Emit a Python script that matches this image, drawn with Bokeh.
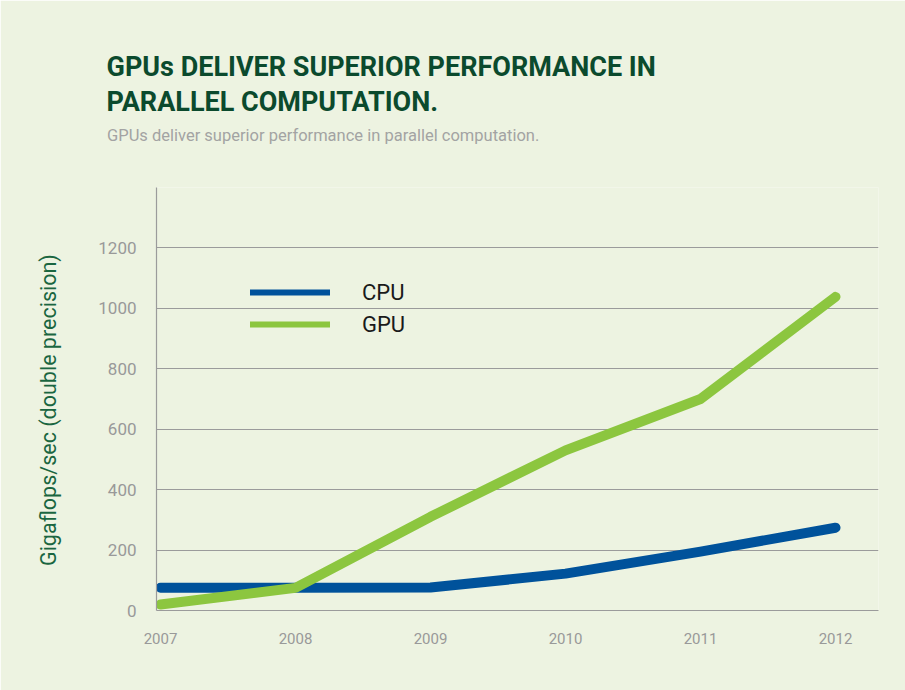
from bokeh.plotting import figure
from bokeh.models import Range1d, FixedTicker, Title, Legend, LegendItem
from bokeh.embed import file_html
from bokeh.resources import INLINE

# ---------------- data ----------------
years = [2007, 2008, 2009, 2010, 2011, 2012]
cpu = [75, 75, 76, 122, 195, 274]
gpu = [20, 75, 310, 530, 700, 1038]
y_ticks = [0, 200, 400, 600, 800, 1000, 1200]
y_tick_labels = ["0", "200", "400", "600", "800", "1000", "1200"]
series_names = ["CPU", "GPU"]
title_lines = ["GPUs DELIVER SUPERIOR PERFORMANCE IN", "PARALLEL COMPUTATION."]
subtitle = "GPUs deliver superior performance in parallel computation."
y_label = "Gigaflops/sec (double precision)"

# ---------------- styles ----------------
BG = "#EDF3E1"
CPU_C = "#00529B"
GPU_C = "#8CC63F"
GRID_C = "#9B9B9B"
TICK_C = "#999999"
TITLE_C = "#0B4A2D"
SUB_C = "#A3A3A3"
YLAB_C = "#1A6640"
FONT = "Roboto"

p = figure(width=905, height=690, title=None, output_backend="svg", toolbar_location=None,
           x_range=Range1d(2006.9704, 2012.3185), y_range=Range1d(0, 1400),
           min_border_left=156, min_border_right=27, min_border_top=187,
           min_border_bottom=80, background_fill_color=BG, border_fill_color=BG,
           outline_line_color=None)

# axes
p.xaxis.ticker = FixedTicker(ticks=years)
p.xaxis.axis_line_color = GRID_C
p.xaxis.axis_line_width = 1.2
p.xaxis.major_tick_line_color = None
p.xaxis.minor_tick_line_color = None
p.xaxis.major_tick_out = 0
p.xaxis.major_tick_in = 0
p.xaxis.major_label_text_font = FONT
p.xaxis.major_label_text_font_size = "15px"
p.xaxis.major_label_text_color = TICK_C
p.xaxis.major_label_standoff = 22

p.yaxis.ticker = FixedTicker(ticks=y_ticks)
p.yaxis.major_label_overrides = dict(zip(y_ticks, y_tick_labels))
p.yaxis.axis_line_color = GRID_C
p.yaxis.axis_line_width = 1.2
p.yaxis.major_tick_line_color = None
p.yaxis.minor_tick_line_color = None
p.yaxis.major_tick_out = 0
p.yaxis.major_tick_in = 0
p.yaxis.major_label_text_font = FONT
p.yaxis.major_label_text_font_size = "17px"
p.yaxis.major_label_text_color = TICK_C
p.yaxis.major_label_standoff = 20

p.xgrid.grid_line_color = None
p.ygrid.ticker = FixedTicker(ticks=y_ticks[1:])
p.ygrid.grid_line_color = GRID_C
p.ygrid.grid_line_width = 1.2

# legend-only thin glyphs (fully covered by the thick lines)
cpu_leg = p.line(years, cpu, line_width=6, line_color=CPU_C, line_cap="round")
cpu_r = p.line(years, cpu, line_width=10, line_color=CPU_C, line_cap="round", line_join="round")
gpu_leg = p.line(years, gpu, line_width=6, line_color=GPU_C, line_cap="round")
gpu_r = p.line(years, gpu, line_width=10, line_color=GPU_C, line_cap="round", line_join="round")

legend = Legend(items=[LegendItem(label=series_names[0], renderers=[cpu_leg]),
                       LegendItem(label=series_names[1], renderers=[gpu_leg])],
                location=(94, 272), glyph_width=80, glyph_height=28, label_height=28,
                spacing=4, label_standoff=32, padding=0, margin=0,
                border_line_color=None, background_fill_alpha=0,
                label_text_font=FONT, label_text_font_size="22px",
                label_text_color="#1A1A1A")
p.add_layout(legend)

# titles (added nearest-first)
p.add_layout(Title(text=" ", text_font_size="1px", standoff=32.0), "above")
p.add_layout(Title(text=subtitle, align="left", offset=-49.5, standoff=14.2,
                   text_font=FONT, text_font_style="normal", text_font_size="16.5px",
                   text_color=SUB_C), "above")
p.add_layout(Title(text=title_lines[1], align="left", offset=-50, standoff=0,
                   text_font=FONT, text_font_style="bold", text_font_size="27px",
                   text_color=TITLE_C), "above")
p.add_layout(Title(text=title_lines[0], align="left", offset=-50, standoff=1.5,
                   text_font=FONT, text_font_style="bold", text_font_size="27px",
                   text_color=TITLE_C), "above")

# y axis title
p.add_layout(Title(text=y_label, align="left", offset=44.5, vertical_align="top",
                   standoff=66, text_font=FONT, text_font_style="normal",
                   text_font_size="21.5px", text_color=YLAB_C), "left")

open("out.html", "w").write(file_html(p, INLINE))
